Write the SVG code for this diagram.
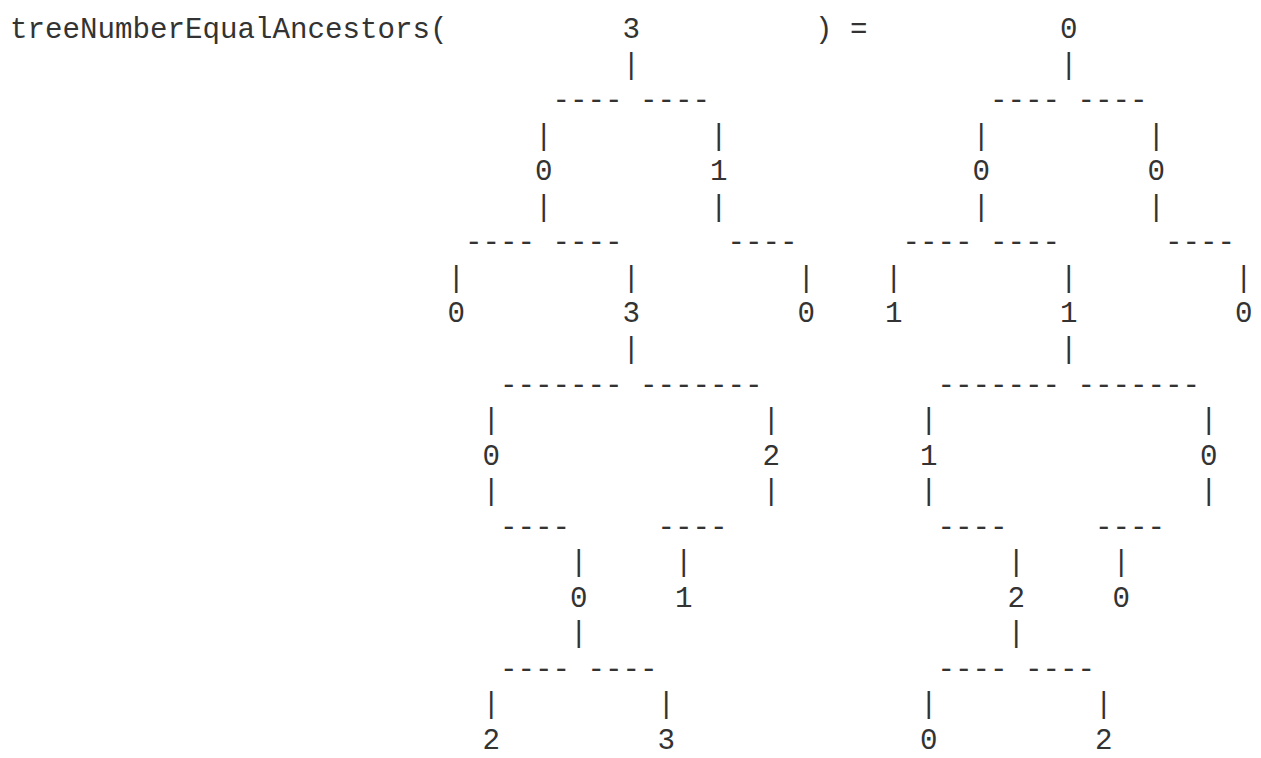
<svg xmlns="http://www.w3.org/2000/svg" width="1261" height="758" viewBox="0 0 1261 758">
<style>
text{font-family:"Liberation Mono","Courier New",monospace;font-size:29.16px;fill:#333}
.n{text-anchor:middle}
.p{text-anchor:middle}
</style>
<rect width="1261" height="758" fill="#fff"/>
<g id="expression">
<text x="10" y="38">treeNumberEqualAncestors(</text>
<text x="823.75" y="38" class="n">)</text>
<text x="858.75" y="38" class="n">=</text>
</g>
<g id="connectors">
<!-- left tree -->
<text x="631.25" y="73.55" class="p">|</text>
<text x="552.5" y="109.1">----</text><text x="640" y="109.1">----</text>
<text x="543.75" y="144.65" class="p">|</text><text x="718.75" y="144.65" class="p">|</text>
<text x="543.75" y="215.75" class="p">|</text><text x="718.75" y="215.75" class="p">|</text>
<text x="465" y="251.3">----</text><text x="552.5" y="251.3">----</text><text x="727.5" y="251.3">----</text>
<text x="456.25" y="286.85" class="p">|</text><text x="631.25" y="286.85" class="p">|</text><text x="806.25" y="286.85" class="p">|</text>
<text x="631.25" y="357.95" class="p">|</text>
<text x="500" y="393.5">-------</text><text x="640" y="393.5">-------</text>
<text x="491.25" y="429.05" class="p">|</text><text x="771.25" y="429.05" class="p">|</text>
<text x="491.25" y="500.15" class="p">|</text><text x="771.25" y="500.15" class="p">|</text>
<text x="500" y="535.7">----</text><text x="657.5" y="535.7">----</text>
<text x="578.75" y="571.25" class="p">|</text><text x="683.75" y="571.25" class="p">|</text>
<text x="578.75" y="642.35" class="p">|</text>
<text x="500" y="677.9">----</text><text x="587.5" y="677.9">----</text>
<text x="491.25" y="713.45" class="p">|</text><text x="666.25" y="713.45" class="p">|</text>
<!-- right tree -->
<text x="1068.75" y="73.55" class="p">|</text>
<text x="990" y="109.1">----</text><text x="1077.5" y="109.1">----</text>
<text x="981.25" y="144.65" class="p">|</text><text x="1156.25" y="144.65" class="p">|</text>
<text x="981.25" y="215.75" class="p">|</text><text x="1156.25" y="215.75" class="p">|</text>
<text x="902.5" y="251.3">----</text><text x="990" y="251.3">----</text><text x="1165" y="251.3">----</text>
<text x="893.75" y="286.85" class="p">|</text><text x="1068.75" y="286.85" class="p">|</text><text x="1243.75" y="286.85" class="p">|</text>
<text x="1068.75" y="357.95" class="p">|</text>
<text x="937.5" y="393.5">-------</text><text x="1077.5" y="393.5">-------</text>
<text x="928.75" y="429.05" class="p">|</text><text x="1208.75" y="429.05" class="p">|</text>
<text x="928.75" y="500.15" class="p">|</text><text x="1208.75" y="500.15" class="p">|</text>
<text x="937.5" y="535.7">----</text><text x="1095" y="535.7">----</text>
<text x="1016.25" y="571.25" class="p">|</text><text x="1121.25" y="571.25" class="p">|</text>
<text x="1016.25" y="642.35" class="p">|</text>
<text x="937.5" y="677.9">----</text><text x="1025" y="677.9">----</text>
<text x="928.75" y="713.45" class="p">|</text><text x="1103.75" y="713.45" class="p">|</text>
</g>
<!-- left tree nodes -->
<g id="L-root"><text x="631.25" y="38" class="n">3</text></g>
<g id="L-a"><text x="543.75" y="180.2" class="n">0</text></g>
<g id="L-b"><text x="718.75" y="180.2" class="n">1</text></g>
<g id="L-aa"><text x="456.25" y="322.4" class="n">0</text></g>
<g id="L-ab"><text x="631.25" y="322.4" class="n">3</text></g>
<g id="L-bb"><text x="806.25" y="322.4" class="n">0</text></g>
<g id="L-aba"><text x="491.25" y="464.6" class="n">0</text></g>
<g id="L-abb"><text x="771.25" y="464.6" class="n">2</text></g>
<g id="L-abab"><text x="578.75" y="606.8" class="n">0</text></g>
<g id="L-abba"><text x="683.75" y="606.8" class="n">1</text></g>
<g id="L-ababa"><text x="491.25" y="749" class="n">2</text></g>
<g id="L-ababb"><text x="666.25" y="749" class="n">3</text></g>
<!-- right tree nodes -->
<g id="R-root"><text x="1068.75" y="38" class="n">0</text></g>
<g id="R-a"><text x="981.25" y="180.2" class="n">0</text></g>
<g id="R-b"><text x="1156.25" y="180.2" class="n">0</text></g>
<g id="R-aa"><text x="893.75" y="322.4" class="n">1</text></g>
<g id="R-ab"><text x="1068.75" y="322.4" class="n">1</text></g>
<g id="R-bb"><text x="1243.75" y="322.4" class="n">0</text></g>
<g id="R-aba"><text x="928.75" y="464.6" class="n">1</text></g>
<g id="R-abb"><text x="1208.75" y="464.6" class="n">0</text></g>
<g id="R-abab"><text x="1016.25" y="606.8" class="n">2</text></g>
<g id="R-abba"><text x="1121.25" y="606.8" class="n">0</text></g>
<g id="R-ababa"><text x="928.75" y="749" class="n">0</text></g>
<g id="R-ababb"><text x="1103.75" y="749" class="n">2</text></g>
</svg>
